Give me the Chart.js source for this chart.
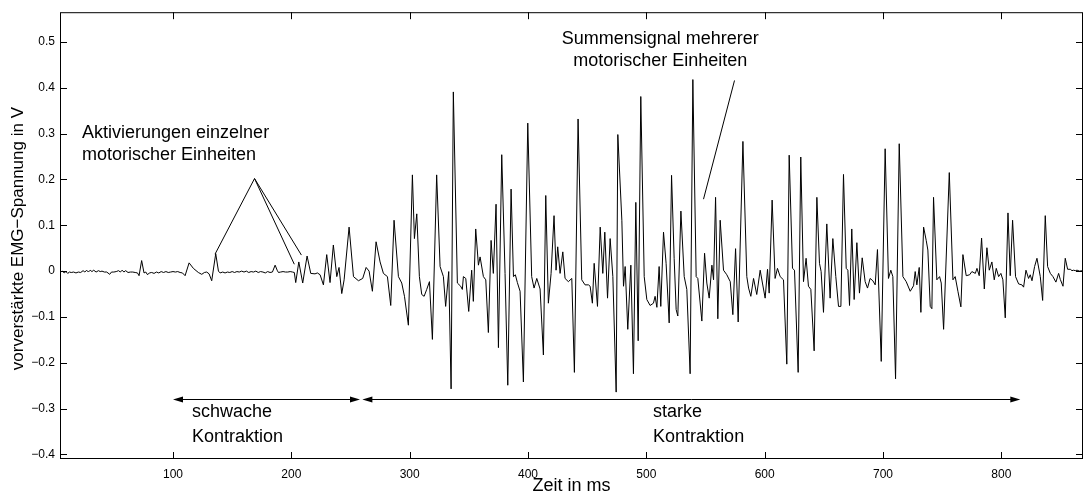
<!DOCTYPE html>
<html>
<head>
<meta charset="utf-8">
<script src="https://cdn.jsdelivr.net/npm/chart.js@4/dist/chart.umd.min.js"></script>
<style>
body { margin: 0; background: #fff; }
#wrap { width: 1084px; height: 497px; }
</style>
</head>
<body>
<div id="wrap"><canvas id="emg"></canvas></div>
<script>
// EMG trace: time in ms, amplified voltage in V
var timeMs = [
  5, 6.5, 8, 9.5, 11, 12.5, 14, 16, 18, 20, 22, 24, 25.5, 27, 28.5, 30, 31.5, 33, 35, 37,
  38.5, 40, 42, 44, 46.5, 48, 50, 52, 54, 55.5, 57, 58.5, 60, 62, 64, 66, 68, 70, 71.3, 73.5,
  75.5, 77, 78.5, 80, 82, 84, 86, 88, 90, 92, 94, 96, 98, 100, 102, 104, 106, 108, 110.2, 113.6,
  117.2, 121.4, 124.3, 126.5, 128.5, 130.5, 132.7, 136.1, 138.4, 139.8, 142, 144, 146, 148, 150, 152, 154, 156, 158, 160,
  162, 164, 166, 168, 170, 172, 174, 176, 178, 180, 182, 184, 186.3, 188, 189.1, 191, 193, 195, 197, 199,
  201, 202.5, 203.7, 206.3, 209.6, 213.3, 216.4, 220, 222, 224.3, 227.1, 229.9, 232.7, 235.5, 238.4, 240.3, 242.6, 244.6, 248.8, 252.5,
  256.7, 260.3, 263.2, 265.7, 268.5, 271.6, 275, 277.8, 281.2, 284, 286.8, 290.5, 293.3, 295.6, 298.9, 302.3, 304, 306, 308.2, 310.2,
  312.2, 314.4, 316.7, 319.2, 322.8, 325.7, 328.5, 330.4, 333, 335, 336.9, 340.3, 343.1, 344.5, 345.4, 347.4, 349.9, 352.4, 353.8, 355.8,
  358.1, 359.5, 362.3, 364.3, 366.5, 368.8, 370.7, 373, 375, 377.8, 380.6, 382.9, 385.7, 387.7, 389.3, 391, 393.3, 396.1, 399.8, 403.1,
  405.1, 407.4, 410.2, 413, 415, 417.2, 419.5, 422, 423.7, 425.1, 427.1, 429.4, 431.3, 434.1, 437, 439.2, 442.3, 445.4, 448.2, 451.1,
  452.5, 454.4, 455.9, 458.7, 461, 463.2, 464.9, 467.2, 469.4, 471.7, 474.5, 475.9, 479.3, 480.7, 482.1, 484.3, 486.9, 489.1, 491.1, 493.1,
  495.3, 498.2, 500.4, 503.2, 506, 507.4, 508.9, 510.8, 512.2, 514.5, 516.7, 519.3, 521.3, 523.5, 525.2, 526.6, 529.2, 532, 534.2, 537,
  539.3, 542.1, 543.5, 546.9, 549.2, 551.1, 553.1, 555.4, 556.8, 558.5, 560.4, 562.4, 565.2, 568, 570.9, 573.1, 575.4, 577.6, 581.6, 584.9,
  586.4, 588.3, 590.6, 593.3, 596.2, 598.1, 600.4, 602.4, 603.8, 606.3, 608.8, 610.8, 613.1, 615.9, 618.7, 620.7, 623.5, 625.2, 628.3, 630.5,
  632.8, 635, 637, 639, 641.8, 644.1, 646.3, 647.7, 649.7, 652.5, 655.3, 657.6, 660.1, 662.4, 664.4, 666.6, 668.9, 670.3, 671.7, 673.6,
  675.6, 677.9, 680.1, 682.4, 684.9, 686.9, 689.1, 691.4, 693.4, 695.3, 698.5, 701.8, 704.6, 706.6, 708.3, 710.6, 713.7, 716.8, 719.6, 723,
  725.8, 727.2, 728.6, 730.6, 732, 734.3, 736.5, 737.9, 739.9, 741.3, 742.7, 745.5, 747.8, 749.2, 751.2, 756, 759.1, 761, 763.3, 765.8,
  767.5, 770.3, 773.2, 775.1, 778, 779.4, 781.3, 783.3, 785.6, 787.8, 789.8, 792, 794, 795.7, 797.7, 799.6, 801.3, 803.3, 805.6, 807.5,
  809.5, 812, 814.6, 817.4, 818.8, 820.8, 823, 824.4, 825.9, 828.1, 830.1, 832.9, 834.9, 837.1, 839.1, 841.4, 843.6, 846.1, 848.4, 849.8,
  852.1, 854, 856, 858.3, 859.7, 861.1, 862.5, 864, 866, 869
];
var voltage = [
  -0.002, 0.000, -0.004, -0.001, -0.005, -0.002, -0.003, -0.002, -0.004, -0.002, -0.003, 0.001, -0.002, 0.002, -0.002, 0.002, -0.001, 0.002, -0.002, 0.001,
  -0.001, 0.000, -0.002, -0.002, -0.007, -0.002, -0.002, -0.001, 0.001, -0.002, 0.002, -0.002, 0.001, -0.003, -0.002, -0.002, -0.003, -0.004, -0.010, 0.023,
  -0.004, -0.002, -0.008, -0.004, -0.003, -0.005, -0.002, -0.004, -0.001, -0.003, -0.001, -0.003, -0.002, -0.001, -0.002, -0.001, -0.003, -0.004, -0.010, 0.018,
  0.006, -0.003, -0.007, -0.003, -0.002, -0.006, -0.021, 0.038, 0.000, -0.004, -0.002, -0.004, -0.002, -0.003, -0.001, -0.003, -0.001, -0.002, 0.000, -0.002,
  0.000, -0.003, -0.001, -0.002, 0.000, -0.003, -0.001, -0.002, -0.004, -0.001, -0.003, -0.002, 0.013, 0.002, -0.003, -0.002, -0.001, -0.002, -0.002, -0.001,
  -0.002, -0.003, -0.025, 0.020, -0.026, 0.033, -0.005, -0.006, -0.004, -0.008, -0.030, 0.036, -0.025, 0.057, -0.012, 0.008, -0.049, -0.019, 0.096, -0.012,
  -0.021, -0.016, 0.008, 0.000, -0.044, 0.064, 0.020, -0.005, -0.012, -0.075, 0.111, -0.012, -0.026, -0.055, -0.118, 0.210, 0.071, 0.125, -0.012, -0.051,
  -0.055, -0.040, -0.023, -0.149, 0.210, 0.010, -0.012, -0.077, -0.001, -0.257, 0.391, -0.026, -0.033, -0.040, -0.012, -0.016, -0.088, 0.002, -0.066, 0.092,
  0.013, 0.031, -0.012, -0.019, -0.134, 0.067, -0.005, 0.146, -0.167, 0.254, -0.005, -0.249, 0.179, -0.012, -0.008, -0.025, -0.044, -0.242, 0.323, -0.012,
  -0.037, -0.016, -0.039, -0.183, 0.165, -0.070, -0.005, 0.121, 0.002, 0.053, -0.005, 0.042, -0.016, -0.023, -0.016, -0.221, 0.332, -0.019, -0.030, -0.030,
  -0.033, -0.070, 0.017, -0.077, 0.096, -0.005, 0.085, -0.059, 0.071, -0.012, -0.264, 0.298, 0.111, -0.033, 0.010, -0.127, 0.013, -0.224, 0.150, -0.152,
  0.381, -0.012, -0.062, -0.075, -0.070, -0.055, -0.079, 0.010, -0.077, 0.085, 0.017, -0.113, 0.209, 0.028, -0.084, -0.098, 0.131, -0.012, -0.040, -0.224,
  0.418, -0.012, -0.016, -0.109, 0.039, -0.026, -0.059, 0.013, -0.019, 0.161, -0.104, 0.111, 0.002, -0.008, -0.023, -0.095, 0.049, -0.111, 0.283, -0.012,
  -0.037, -0.055, -0.016, -0.051, 0.002, -0.026, -0.059, 0.004, -0.048, 0.155, -0.016, 0.006, -0.012, -0.019, -0.203, 0.253, 0.006, 0.002, -0.221, 0.249,
  -0.023, 0.028, -0.033, -0.040, -0.174, 0.161, 0.017, -0.001, -0.090, 0.103, -0.059, 0.071, -0.012, -0.077, -0.077, 0.211, 0.006, 0.002, -0.075, 0.092,
  -0.062, 0.062, -0.048, 0.029, -0.023, -0.037, -0.016, -0.021, -0.030, 0.047, -0.197, 0.267, -0.016, 0.002, -0.012, -0.235, 0.278, -0.012, -0.023, -0.044,
  -0.032, -0.001, -0.030, 0.008, -0.090, 0.096, 0.067, 0.046, -0.077, -0.082, 0.161, -0.019, -0.012, -0.026, -0.127, 0.215, -0.019, -0.012, -0.044, -0.078,
  0.036, -0.010, -0.008, -0.001, -0.005, 0.006, -0.010, 0.072, -0.039, 0.051, 0.002, 0.020, -0.019, 0.006, -0.012, -0.005, -0.019, -0.102, 0.127, -0.010,
  0.111, -0.012, -0.028, -0.030, -0.035, 0.002, -0.016, -0.008, -0.021, 0.010, 0.028, -0.012, -0.064, 0.121, 0.010, -0.005, -0.012, -0.024, -0.005, -0.018,
  -0.033, 0.028, 0.004, 0.004, 0.001, 0.002, 0.001, 0.002, 0.000, 0.001
];
var xTicks = [100, 200, 300, 400, 500, 600, 700, 800];
var yTicks = [-0.4, -0.3, -0.2, -0.1, 0, 0.1, 0.2, 0.3, 0.4, 0.5];

var FONT = "'Liberation Sans', Arial, Helvetica, sans-serif";
Chart.defaults.font.family = FONT;
Chart.defaults.color = '#000';

function fmtTick(v) {
  if (Math.abs(v) < 1e-9) return '0';
  return (v < 0 ? '\u2212' : '') + Math.abs(v).toFixed(1);
}

// box round the plot with ticks pointing inward on all four sides
var frame = {
  id: 'frame',
  afterDraw: function(chart) {
    var ctx = chart.ctx, a = chart.chartArea;
    var xs = chart.scales.x, ys = chart.scales.y;
    ctx.save();
    ctx.strokeStyle = '#000';
    ctx.lineWidth = 1;
    ctx.strokeRect(a.left + 0.5, a.top + 0.5, a.right - a.left - 1, a.bottom - a.top - 1);
    ctx.beginPath();
    xTicks.forEach(function(t) {
      var px = Math.round(xs.getPixelForValue(t)) + 0.5;
      ctx.moveTo(px, a.bottom); ctx.lineTo(px, a.bottom - 7);
      ctx.moveTo(px, a.top); ctx.lineTo(px, a.top + 7);
    });
    yTicks.forEach(function(t) {
      var py = Math.round(ys.getPixelForValue(t)) + 0.5;
      ctx.moveTo(a.left, py); ctx.lineTo(a.left + 7, py);
      ctx.moveTo(a.right, py); ctx.lineTo(a.right - 7, py);
    });
    ctx.stroke();
    // y axis label, centred a little above the middle as in the original
    ctx.translate(18, ys.getPixelForValue(0.071));
    ctx.rotate(-Math.PI / 2);
    ctx.font = '17px ' + FONT;
    ctx.fillStyle = '#000';
    ctx.textAlign = 'center';
    ctx.textBaseline = 'middle';
    ctx.fillText('vorverstärkte EMG\u2212Spannung in V', 0, 0);
    ctx.restore();
  }
};

// text, pointer lines and double arrows, placed in data units
var pointerLines = [
  { from: [168.9, 0.202], to: [135.5, 0.037] },
  { from: [168.9, 0.202], to: [202.5, 0.015] },
  { from: [168.9, 0.202], to: [208.5, 0.035] },
  { from: [574.5, 0.416], to: [548.3, 0.157] }
];
var spanArrows = [
  { from: 100, to: 258, y: -0.28 },
  { from: 260, to: 816, y: -0.28 }
];
var noteTexts = [
  { text: 'Aktivierungen einzelner', x: 23.1, y: 0.301, align: 'left' },
  { text: 'motorischer Einheiten', x: 23.1, y: 0.254, align: 'left' },
  { text: 'Summensignal mehrerer', x: 511.7, y: 0.506, align: 'center' },
  { text: 'motorischer Einheiten', x: 511.7, y: 0.459, align: 'center' },
  { text: 'schwache', x: 116, y: -0.308, align: 'left' },
  { text: 'Kontraktion', x: 116, y: -0.361, align: 'left' },
  { text: 'starke', x: 505.7, y: -0.308, align: 'left' },
  { text: 'Kontraktion', x: 505.7, y: -0.361, align: 'left' }
];

function arrowHead(ctx, x, y, dir) {
  ctx.beginPath();
  ctx.moveTo(x, y);
  ctx.lineTo(x - dir * 10, y - 3);
  ctx.lineTo(x - dir * 10, y + 3);
  ctx.closePath();
  ctx.fill();
}

var notes = {
  id: 'notes',
  afterDatasetsDraw: function(chart) {
    var ctx = chart.ctx;
    var xs = chart.scales.x, ys = chart.scales.y;
    ctx.save();
    ctx.strokeStyle = '#000';
    ctx.fillStyle = '#000';
    ctx.lineWidth = 1;
    pointerLines.forEach(function(l) {
      ctx.beginPath();
      ctx.moveTo(xs.getPixelForValue(l.from[0]), ys.getPixelForValue(l.from[1]));
      ctx.lineTo(xs.getPixelForValue(l.to[0]), ys.getPixelForValue(l.to[1]));
      ctx.stroke();
    });
    spanArrows.forEach(function(s) {
      var x1 = xs.getPixelForValue(s.from), x2 = xs.getPixelForValue(s.to);
      var py = Math.round(ys.getPixelForValue(s.y)) + 0.5;
      ctx.beginPath();
      ctx.moveTo(x1 + 4, py); ctx.lineTo(x2 - 4, py);
      ctx.stroke();
      arrowHead(ctx, x1, py, -1);
      arrowHead(ctx, x2, py, 1);
    });
    ctx.font = '18px ' + FONT;
    ctx.textBaseline = 'middle';
    noteTexts.forEach(function(t) {
      ctx.textAlign = t.align;
      ctx.fillText(t.text, xs.getPixelForValue(t.x), ys.getPixelForValue(t.y));
    });
    ctx.restore();
  }
};

var points = timeMs.map(function(t, i) { return { x: t, y: voltage[i] }; });

new Chart(document.getElementById('emg'), {
  type: 'line',
  data: {
    datasets: [{
      data: points,
      borderColor: '#000',
      borderWidth: 1,
      pointRadius: 0,
      tension: 0,
      fill: false
    }]
  },
  options: {
    responsive: true,
    maintainAspectRatio: false,
    animation: false,
    events: [],
    layout: { padding: { top: 8, right: 1, left: 0, bottom: 0 } },
    plugins: { legend: { display: false }, tooltip: { enabled: false } },
    scales: {
      x: {
        type: 'linear',
        min: 4.5,
        max: 869,
        grid: { display: false, drawTicks: false },
        border: { display: false },
        ticks: { font: { size: 12 }, padding: 8, maxRotation: 0, callback: function(v) { return String(v); } },
        afterBuildTicks: function(s) { s.ticks = xTicks.map(function(v) { return { value: v }; }); },
        afterFit: function(s) { s.height = 38; },
        title: { display: true, text: 'Zeit in ms', font: { size: 18 }, padding: { top: 0, bottom: 0 } }
      },
      y: {
        min: -0.41,
        max: 0.565,
        grid: { display: false, drawTicks: false },
        border: { display: false },
        ticks: { font: { size: 12 }, padding: 5, callback: fmtTick },
        afterBuildTicks: function(s) { s.ticks = yTicks.map(function(v) { return { value: v }; }); },
        afterFit: function(s) { s.width = 60; }
      }
    }
  },
  plugins: [frame, notes]
});
</script>
</body>
</html>
